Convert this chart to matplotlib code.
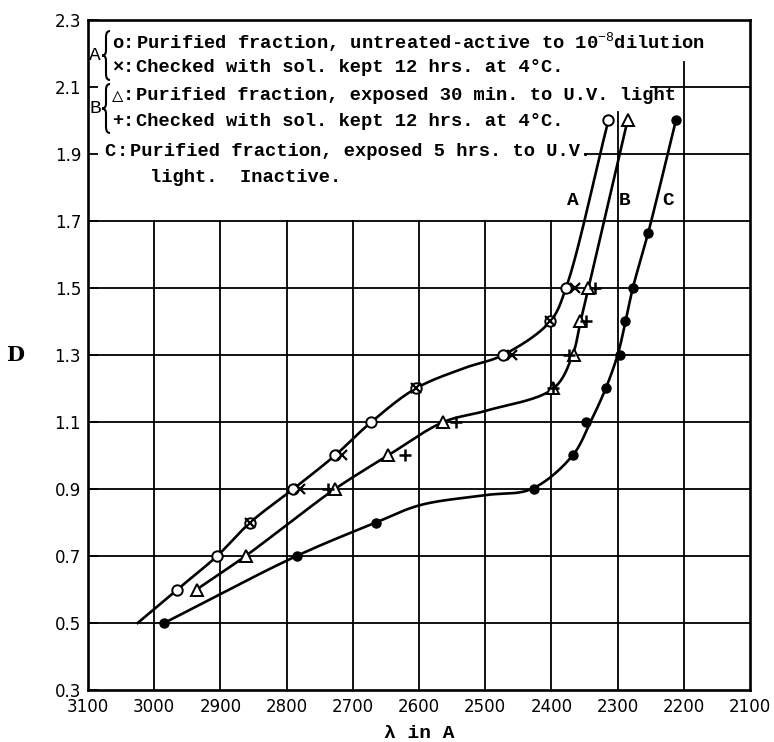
import numpy as np
import matplotlib
matplotlib.use('Agg')
import matplotlib.pyplot as plt
from matplotlib.path import Path
from matplotlib.patches import PathPatch

plt.rcParams['font.family'] = ['Liberation Mono', 'DejaVu Sans Mono']
plt.rcParams['mathtext.fontset'] = 'custom'
plt.rcParams['mathtext.rm'] = 'Liberation Mono'

# ---- data ----
# curve A : purified fraction, untreated (o) and checked after 12 hrs (x)
a_circle_x = [2965, 2905, 2855, 2790, 2727, 2672, 2605, 2473, 2402, 2378, 2314]
a_circle_y = [0.6, 0.7, 0.8, 0.9, 1.0, 1.1, 1.2, 1.3, 1.4, 1.5, 2.0]
a_cross_x = [2855, 2780, 2717, 2605, 2460, 2402, 2365]
a_cross_y = [0.8, 0.9, 1.0, 1.2, 1.3, 1.4, 1.5]
a_curve_x = [3025, 2965, 2905, 2855, 2790, 2727, 2672, 2605, 2533, 2473, 2402, 2378, 2314]
a_curve_y = [0.5, 0.6, 0.7, 0.8, 0.9, 1.0, 1.1, 1.2, 1.26, 1.3, 1.4, 1.5, 2.0]

# curve B : exposed 30 min (triangles) and checked after 12 hrs (+)
b_tri_x = [2936, 2862, 2727, 2647, 2563, 2397, 2366, 2357, 2344, 2285]
b_tri_y = [0.6, 0.7, 0.9, 1.0, 1.1, 1.2, 1.3, 1.4, 1.5, 2.0]
b_plus_x = [2737, 2621, 2544, 2397, 2374, 2347, 2334]
b_plus_y = [0.9, 1.0, 1.1, 1.2, 1.3, 1.4, 1.5]
b_curve_x = [2936, 2862, 2795, 2727, 2647, 2563, 2498, 2397, 2368, 2356, 2344, 2285]
b_curve_y = [0.6, 0.7, 0.8, 0.9, 1.0, 1.1, 1.134, 1.2, 1.3, 1.4, 1.5, 2.0]

# curve C : exposed 5 hrs, inactive (filled dots)
c_dot_x = [2985, 2785, 2665, 2427, 2368, 2348, 2318, 2297, 2289, 2277, 2254, 2212]
c_dot_y = [0.5, 0.7, 0.8, 0.9, 1.0, 1.1, 1.2, 1.3, 1.4, 1.5, 1.663, 2.0]
c_curve_x = [2985, 2785, 2665, 2598, 2498, 2430, 2368, 2341, 2318, 2300, 2288, 2277, 2254, 2212]
c_curve_y = [0.5, 0.7, 0.8, 0.852, 0.882, 0.9, 1.0, 1.1, 1.2, 1.3, 1.4, 1.5, 1.663, 2.0]

x_ticks = [3100, 3000, 2900, 2800, 2700, 2600, 2500, 2400, 2300, 2200, 2100]
y_ticks = [0.3, 0.5, 0.7, 0.9, 1.1, 1.3, 1.5, 1.7, 1.9, 2.1, 2.3]

key_a = [('o', r'Purified fraction, untreated-active to 10$^{-8}$dilution'),
         ('\u00d7', 'Checked with sol. kept 12 hrs. at 4\u00b0C.')]
key_b = [('\u25b3', 'Purified fraction, exposed 30 min. to U.V. light'),
         ('+', 'Checked with sol. kept 12 hrs. at 4\u00b0C.')]
key_c = ['Purified fraction, exposed 5 hrs. to U.V.', 'light.  Inactive.']


def smooth(xs, ys, n=24):
    # centripetal catmull-rom through the hand drawn curve points
    p = np.column_stack([np.asarray(xs, float) * -0.662, np.asarray(ys, float) * 335.0])
    p = np.vstack([2 * p[0] - p[1], p, 2 * p[-1] - p[-2]])
    out = []
    for i in range(1, len(p) - 2):
        p0, p1, p2, p3 = p[i - 1], p[i], p[i + 1], p[i + 2]
        t0 = 0.0
        t1 = t0 + np.linalg.norm(p1 - p0) ** 0.5
        t2 = t1 + np.linalg.norm(p2 - p1) ** 0.5
        t3 = t2 + np.linalg.norm(p3 - p2) ** 0.5
        t = np.linspace(t1, t2, n)[:, None]
        a1 = (t1 - t) / (t1 - t0) * p0 + (t - t0) / (t1 - t0) * p1
        a2 = (t2 - t) / (t2 - t1) * p1 + (t - t1) / (t2 - t1) * p2
        a3 = (t3 - t) / (t3 - t2) * p2 + (t - t2) / (t3 - t2) * p3
        b1 = (t2 - t) / (t2 - t0) * a1 + (t - t0) / (t2 - t0) * a2
        b2 = (t3 - t) / (t3 - t1) * a2 + (t - t1) / (t3 - t1) * a3
        c = (t2 - t) / (t2 - t1) * b1 + (t - t1) / (t2 - t1) * b2
        out.append(c)
    out = np.vstack(out)
    return out[:, 0] / -0.662, out[:, 1] / 335.0


fig = plt.figure(figsize=(7.74, 7.42), dpi=100)
ax = fig.add_axes([88 / 774, 52 / 742, 662 / 774, 670 / 742])
ax.set_xlim(3100, 2100)
ax.set_ylim(0.3, 2.3)


def px(x, y):
    # pixel position in the picture -> axes fraction
    return ((x - 88) / 662, (690 - y) / 670)


def brace(top, bot, xl, xr):
    xm = (xl + xr) / 2
    mid = (top + bot) / 2
    pts = [px(xr, top), px(xm, top), px(xm, top + 6), px(xm, mid - 5),
           px(xm, mid), px(xl, mid), px(xm, mid), px(xm, mid + 5),
           px(xm, bot - 6), px(xm, bot), px(xr, bot)]
    codes = [Path.MOVETO, Path.CURVE3, Path.CURVE3, Path.LINETO,
             Path.CURVE3, Path.CURVE3, Path.CURVE3, Path.CURVE3,
             Path.LINETO, Path.CURVE3, Path.CURVE3]
    ax.add_patch(PathPatch(Path(pts, codes), fill=False, lw=1.5,
                           transform=ax.transAxes, clip_on=False))


# grid, partly hidden behind the key in the top left
gkw = dict(color='black', lw=1.3, zorder=1)
for xv in [3000, 2900, 2800, 2700, 2600, 2500, 2400]:
    ax.axvline(xv, ymax=0.7, **gkw)
ax.axvline(2300, ymax=0.8625, **gkw)
ax.axvline(2200, ymax=0.9375, **gkw)
for yv in [0.5, 0.7, 0.9, 1.1, 1.3, 1.5, 1.7]:
    ax.axhline(yv, **gkw)
ax.axhline(1.9, xmin=0.75, **gkw)
ax.axhline(2.1, xmin=0.85, **gkw)

lkw = dict(color='black', lw=1.9, zorder=3)
ax.plot(*smooth(a_curve_x, a_curve_y), **lkw)
ax.plot(*smooth(b_curve_x, b_curve_y), **lkw)
ax.plot(*smooth(c_curve_x, c_curve_y), **lkw)

ax.plot(a_circle_x, a_circle_y, 'o', ms=7.5, mfc='white', mec='black', mew=1.4, zorder=4)
ax.plot(a_cross_x, a_cross_y, 'x', ms=7, mec='black', mew=1.6, zorder=5)
ax.plot(b_tri_x, b_tri_y, '^', ms=8, mfc='white', mec='black', mew=1.4, zorder=4)
ax.plot(b_plus_x, b_plus_y, '+', ms=8, mec='black', mew=1.8, zorder=5)
ax.plot(c_dot_x, c_dot_y, 'o', ms=6.5, color='black', zorder=4)

ax.text(2367, 1.76, 'A', fontsize=14, ha='center', va='center', weight='bold')
ax.text(2290, 1.76, 'B', fontsize=14, ha='center', va='center', weight='bold')
ax.text(2224, 1.76, 'C', fontsize=14, ha='center', va='center', weight='bold')

# key
fs = 13.5
tkw = dict(transform=ax.transAxes, fontsize=fs, va='center', weight='bold')
for grp, label, rows, top in [('A', key_a, [43, 68], 31), ('B', key_b, [96, 121], 84)]:
    ax.text(*px(95, (rows[0] + rows[1]) / 2), grp, ha='center',
            **dict(tkw, fontsize=14, weight='normal'))
    brace(top, top + 49, 102, 110)
    for (sym, txt), yy in zip(label, rows):
        ax.text(*px(118, yy), sym, ha='center', **tkw)
        ax.text(*px(128, yy), ':', ha='center', **tkw)
        ax.text(*px(136, yy), txt, ha='left', **tkw)
ax.text(*px(110, 151), 'C', ha='center', **tkw)
ax.text(*px(122, 151), ':', ha='center', **tkw)
ax.text(*px(130, 151), key_c[0], ha='left', **tkw)
ax.text(*px(150, 177), key_c[1], ha='left', **tkw)

ax.set_xticks(x_ticks)
ax.set_xticklabels([str(v) for v in x_ticks], family='DejaVu Sans', fontsize=12)
ax.set_yticks(y_ticks)
ax.set_yticklabels(['%.1f' % v for v in y_ticks], family='DejaVu Sans', fontsize=12)
ax.tick_params(axis='y', direction='in', length=7, width=1.3, pad=5)
ax.tick_params(axis='x', length=0, pad=6)
for s in ax.spines.values():
    s.set_linewidth(1.9)

ax.set_xlabel('\u03bb in A', fontsize=14, labelpad=6, weight='bold')
fig.text(15 / 774, 1 - 355 / 742, 'D', fontsize=15, ha='center', va='center',
         weight='bold', family='DejaVu Serif')

fig.savefig('out.png', dpi=100)
